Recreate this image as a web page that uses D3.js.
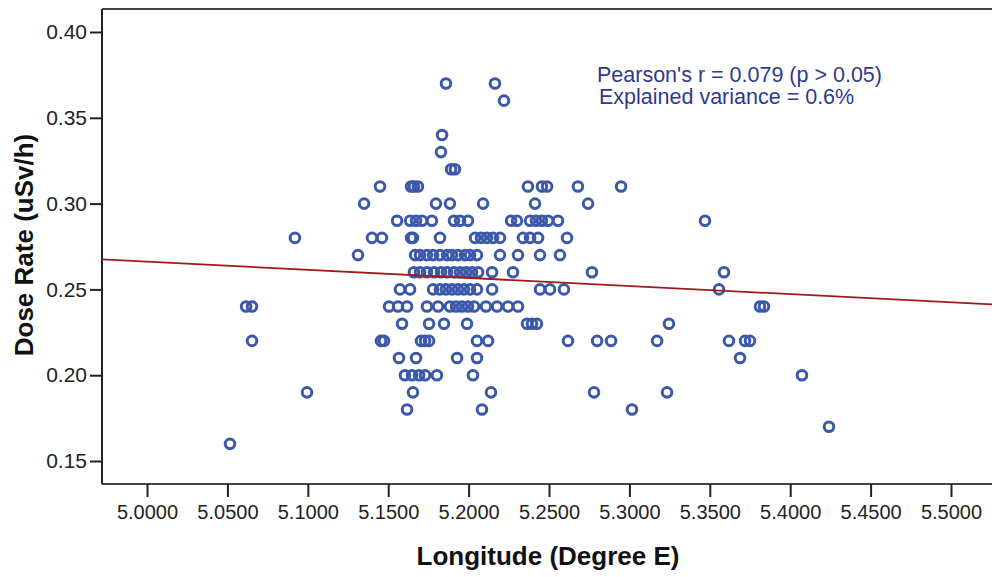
<!DOCTYPE html>
<html>
<head>
<meta charset="utf-8">
<script src="https://cdn.jsdelivr.net/npm/d3@7"></script>
<style>
  html, body { margin: 0; padding: 0; background: #fff; }
  svg { display: block; }
  text { font-family: "Liberation Sans", Arial, sans-serif; }
</style>
</head>
<body>
<svg id="chart" width="992" height="577"></svg>
<script>
// ---------------- data ----------------
const longitude = [
  5.1859, 5.2164,                                   // 0.37
  5.2220,                                           // 0.36
  5.1835,                                           // 0.34
  5.1828,                                           // 0.33
  5.1891, 5.1915,                                   // 0.32
  5.1449, 5.1642, 5.1660, 5.1685, 5.2369, 5.2456, 5.2488, 5.2680, 5.2948, // 0.31
  5.1350, 5.1797, 5.1884, 5.2090, 5.2413, 5.2743,   // 0.30
  5.1555, 5.1636, 5.1673, 5.1710, 5.1772, 5.1909, 5.1947, 5.1996, 5.2264, 5.2301, 5.2382, 5.2419, 5.2456, 5.2494, 5.2556, 5.3470, // 0.29
  5.0920, 5.1399, 5.1461, 5.1642, 5.1654, 5.1822, 5.2040, 5.2077, 5.2114, 5.2152, 5.2195, 5.2338, 5.2382, 5.2432, 5.2612, // 0.28
  5.1312, 5.1667, 5.1698, 5.1741, 5.1779, 5.1822, 5.1866, 5.1897, 5.1934, 5.1978, 5.2009, 5.2052, 5.2195, 5.2307, 5.2444, 5.2568, // 0.27
  5.1660, 5.1698, 5.1741, 5.1785, 5.1828, 5.1866, 5.1909, 5.1947, 5.1984, 5.2021, 5.2059, 5.2146, 5.2276, 5.2767, 5.3588, // 0.26
  5.1573, 5.1636, 5.1779, 5.1822, 5.1859, 5.1897, 5.1934, 5.1971, 5.2009, 5.2052, 5.2146, 5.2444, 5.2506, 5.2593, 5.3557, // 0.25
  5.0616, 5.0653, 5.1505, 5.1561, 5.1617, 5.1741, 5.1810, 5.1884, 5.1922, 5.1959, 5.1996, 5.2034, 5.2108, 5.2177, 5.2245, 5.2307, 5.3812, 5.3837, // 0.24
  5.1586, 5.1754, 5.1847, 5.1990, 5.2363, 5.2394, 5.2425, 5.3246, // 0.23
  5.0653, 5.1455, 5.1474, 5.1704, 5.1729, 5.1754, 5.2052, 5.2121, 5.2618, 5.2799, 5.2886, 5.3172, 5.3619, 5.3719, 5.3750, // 0.22
  5.1567, 5.1673, 5.1928, 5.2052, 5.3688,           // 0.21
  5.1604, 5.1648, 5.1692, 5.1729, 5.1803, 5.2027, 5.4073, // 0.20
  5.0995, 5.1654, 5.2139, 5.2780, 5.3234,           // 0.19
  5.1617, 5.2083, 5.3016,                           // 0.18
  5.4241,                                           // 0.17
  5.0516                                            // 0.16
];
const doseRate = [
  0.37, 0.37,
  0.36,
  0.34,
  0.33,
  0.32, 0.32,
  0.31, 0.31, 0.31, 0.31, 0.31, 0.31, 0.31, 0.31, 0.31,
  0.30, 0.30, 0.30, 0.30, 0.30, 0.30,
  0.29, 0.29, 0.29, 0.29, 0.29, 0.29, 0.29, 0.29, 0.29, 0.29, 0.29, 0.29, 0.29, 0.29, 0.29, 0.29,
  0.28, 0.28, 0.28, 0.28, 0.28, 0.28, 0.28, 0.28, 0.28, 0.28, 0.28, 0.28, 0.28, 0.28, 0.28,
  0.27, 0.27, 0.27, 0.27, 0.27, 0.27, 0.27, 0.27, 0.27, 0.27, 0.27, 0.27, 0.27, 0.27, 0.27, 0.27,
  0.26, 0.26, 0.26, 0.26, 0.26, 0.26, 0.26, 0.26, 0.26, 0.26, 0.26, 0.26, 0.26, 0.26, 0.26,
  0.25, 0.25, 0.25, 0.25, 0.25, 0.25, 0.25, 0.25, 0.25, 0.25, 0.25, 0.25, 0.25, 0.25, 0.25,
  0.24, 0.24, 0.24, 0.24, 0.24, 0.24, 0.24, 0.24, 0.24, 0.24, 0.24, 0.24, 0.24, 0.24, 0.24, 0.24, 0.24, 0.24,
  0.23, 0.23, 0.23, 0.23, 0.23, 0.23, 0.23, 0.23,
  0.22, 0.22, 0.22, 0.22, 0.22, 0.22, 0.22, 0.22, 0.22, 0.22, 0.22, 0.22, 0.22, 0.22, 0.22,
  0.21, 0.21, 0.21, 0.21, 0.21,
  0.20, 0.20, 0.20, 0.20, 0.20, 0.20, 0.20,
  0.19, 0.19, 0.19, 0.19, 0.19,
  0.18, 0.18, 0.18,
  0.17,
  0.16
];
// fitted line end points as drawn (longitude, dose)
const fitLon = [4.972, 5.5255];
const fitDose = [0.2675, 0.2413];

const xTicks = [5.00, 5.05, 5.10, 5.15, 5.20, 5.25, 5.30, 5.35, 5.40, 5.45, 5.50];
const yTicks = [0.15, 0.20, 0.25, 0.30, 0.35, 0.40];
const xDomain = [4.972, 5.5255];
const yDomain = [0.1366, 0.4134];

const annotations = ["Pearson's r = 0.079 (p > 0.05)", "Explained variance = 0.6%"];
const xTitle = "Longitude (Degree E)";
const yTitle = "Dose Rate (uSv/h)";

// ---------------- drawing ----------------
(function draw() {
  const svg = d3.select("#chart");
  const pL = 102, pR = 992, pT = 9, pB = 484;

  const x = d3.scaleLinear().domain(xDomain).range([pL, pR]);
  const y = d3.scaleLinear().domain(yDomain).range([pB, pT]);

  // top frame line
  svg.append("line").attr("x1", pL).attr("x2", pR).attr("y1", pT).attr("y2", pT)
    .attr("stroke", "#444").attr("stroke-width", 2);

  // x axis
  const gx = svg.append("g").attr("transform", `translate(0,${pB})`)
    .call(d3.axisBottom(x).tickValues(xTicks).tickFormat(d3.format(".4f")).tickSize(13).tickPadding(8));
  gx.select(".domain").attr("stroke", "#444").attr("stroke-width", 2)
    .attr("d", `M${pL},0H${pR}`);
  gx.selectAll(".tick line").attr("stroke", "#222").attr("stroke-width", 2);
  gx.selectAll(".tick text").attr("font-size", 20).attr("fill", "#222")
    .attr("font-family", "'Liberation Sans', Arial, sans-serif");

  // y axis
  const gy = svg.append("g").attr("transform", `translate(${pL},0)`)
    .call(d3.axisLeft(y).tickValues(yTicks).tickFormat(d3.format(".2f")).tickSize(12).tickPadding(3));
  gy.select(".domain").attr("stroke", "#222").attr("stroke-width", 2)
    .attr("d", `M0,${pT}V${pB}`);
  gy.selectAll(".tick line").attr("stroke", "#222").attr("stroke-width", 2);
  gy.selectAll(".tick text").attr("font-size", 21).attr("fill", "#222")
    .attr("font-family", "'Liberation Sans', Arial, sans-serif");

  // points
  const pts = longitude.map((lon, i) => ({ lon, dose: doseRate[i] }));
  svg.append("g").selectAll("circle").data(pts).join("circle")
    .attr("cx", d => x(d.lon)).attr("cy", d => y(d.dose))
    .attr("r", 4.8)
    .attr("fill", "none")
    .attr("stroke", "#3b58ab")
    .attr("stroke-width", 3);

  // fitted line
  svg.append("line")
    .attr("x1", x(fitLon[0])).attr("y1", y(fitDose[0]))
    .attr("x2", x(fitLon[1])).attr("y2", y(fitDose[1]))
    .attr("stroke", "#a01a1a").attr("stroke-width", 1.8);

  // annotation
  svg.append("text").attr("x", 597).attr("y", 82).attr("font-size", 21.5)
    .attr("fill", "#2e3a8f").text(annotations[0]);
  svg.append("text").attr("x", 599).attr("y", 104).attr("font-size", 21.5)
    .attr("fill", "#2e3a8f").text(annotations[1]);

  // axis titles
  svg.append("text").attr("x", 548).attr("y", 565).attr("text-anchor", "middle")
    .attr("font-size", 26).attr("font-weight", "bold").attr("fill", "#111").text(xTitle);
  svg.append("text").attr("transform", "rotate(-90)").attr("x", -245).attr("y", 33)
    .attr("text-anchor", "middle").attr("font-size", 26).attr("font-weight", "bold")
    .attr("fill", "#111").text(yTitle);
})();
</script>
</body>
</html>
